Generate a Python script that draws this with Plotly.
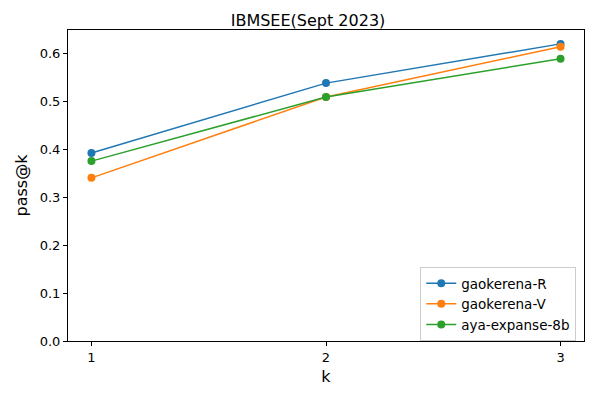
import plotly.graph_objects as go

k_values = [1, 2, 3]
gaokerena_R = [0.393, 0.539, 0.621]
gaokerena_V = [0.341, 0.510, 0.615]
aya_expanse_8b = [0.376, 0.510, 0.590]
series_names = ["gaokerena-R", "gaokerena-V", "aya-expanse-8b"]
colors = ["#1f77b4", "#ff7f0e", "#2ca02c"]

fig = go.Figure()
for name, vals, c in zip(series_names, [gaokerena_R, gaokerena_V, aya_expanse_8b], colors):
    fig.add_trace(go.Scatter(x=k_values, y=vals, name=name, mode="lines+markers",
                             line=dict(color=c, width=1.5),
                             marker=dict(color=c, size=8, symbol="circle")))

axis_common = dict(showgrid=False, zeroline=False, showline=True, linecolor="black",
                   linewidth=1, mirror=True, ticks="outside", ticklen=4, tickcolor="black",
                   tickfont=dict(size=13, color="black"), automargin=False)
fig.update_layout(
    width=600, height=400,
    paper_bgcolor="white", plot_bgcolor="white",
    font=dict(family="DejaVu Sans", size=13, color="black"),
    margin=dict(l=60, r=24, t=22, b=67),
    title=dict(text="IBMSEE(Sept 2023)", x=0.5, xanchor="center", y=0.97, yanchor="middle",
               font=dict(size=16)),
    xaxis=dict(title=dict(text="k", standoff=7), range=[0.9, 3.1], tickvals=k_values,
               **axis_common),
    yaxis=dict(title=dict(text="pass@k", standoff=8), range=[0, 0.65], dtick=0.1,
               tickformat=".1f", **axis_common),
    legend=dict(x=0.985, y=0.0, xanchor="right", yanchor="bottom",
                bordercolor="#cccccc", borderwidth=1, bgcolor="rgba(255,255,255,0.8)",
                font=dict(size=13.5), tracegroupgap=0),
    showlegend=True,
)
fig.write_html("out.html")
